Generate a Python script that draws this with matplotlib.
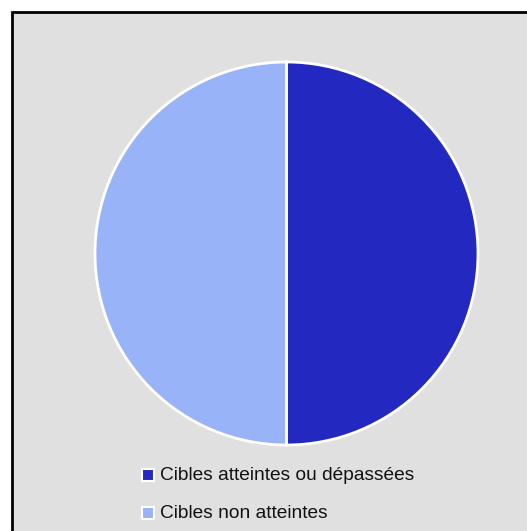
import matplotlib.pyplot as plt
from matplotlib.patches import Rectangle

plt.rcParams['font.family'] = ['Liberation Sans', 'DejaVu Sans']

labels = ['Cibles atteintes ou dépassées', 'Cibles non atteintes']
values = [50, 50]
colors = ['#2228c0', '#99b3f8']

W, H = 527, 531
fig = plt.figure(figsize=(W / 100, H / 100), dpi=100)
fig.patch.set_facecolor('white')

# fond gris avec bordure noire
fig.patches.append(Rectangle((12 / W, -0.05), 1.1, (H - 12) / H + 0.05,
                             transform=fig.transFigure, facecolor='#e0e0e0',
                             edgecolor='black', linewidth=2, zorder=-5))

# camembert
cx, cy, r = 286.5, 253.5, 191.5
ax = fig.add_axes([(cx - r) / W, (H - cy - r) / H, 2 * r / W, 2 * r / H])
ax.set_zorder(2)
ax.patch.set_alpha(0)
ax.pie(values, colors=colors, startangle=90, counterclock=False,
       wedgeprops=dict(edgecolor='white', linewidth=2))
ax.set_xlim(-1.0, 1.0)
ax.set_ylim(-1.0, 1.0)
ax.set_aspect('equal')
ax.axis('off')

# légende
for i, (lab, col) in enumerate(zip(labels, colors)):
    yc = 475 + i * 38
    fig.patches.append(Rectangle((142 / W, (H - yc - 6) / H), 12 / W, 12 / H,
                                 transform=fig.transFigure, facecolor=col,
                                 edgecolor='white', linewidth=1.5, zorder=3))
    fig.text(160 / W, (H - yc) / H, lab, fontsize=13.8, va='center', ha='left',
             color='#111111', zorder=3)

fig.savefig('out.png', dpi=100)
